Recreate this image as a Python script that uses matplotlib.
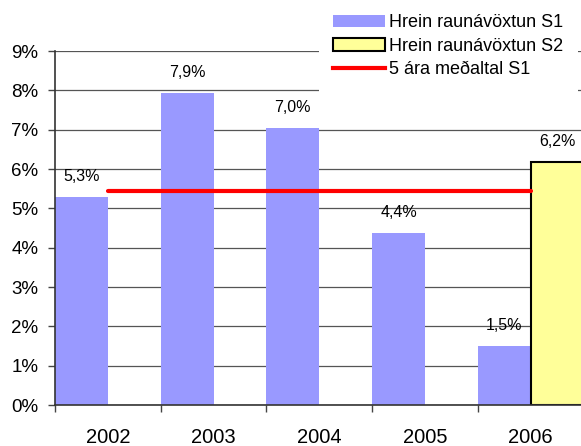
import numpy as np
import matplotlib
matplotlib.use("Agg")
import matplotlib.pyplot as plt
from matplotlib.patches import Patch
from matplotlib.lines import Line2D

years = ['2002', '2003', '2004', '2005', '2006']
s1 = [5.3, 7.94, 7.04, 4.37, 1.5]
s2 = [np.nan, np.nan, np.nan, np.nan, 6.18]
avg_s1 = 5.45
y_ticks = [0, 1, 2, 3, 4, 5, 6, 7, 8, 9]

s1_color = '#9999FF'
s2_color = '#FFFF99'

plt.rcParams['font.family'] = ['Liberation Sans', 'DejaVu Sans']


def main():
    fig = plt.figure(figsize=(5.81, 4.46), dpi=100)
    W, H = 581, 446
    ax = fig.add_axes([55 / W, (H - 405) / H, (583.5 - 55) / W, (405 - 51) / H])

    x = np.arange(len(years))
    ax.bar(x - 0.25, s1, width=0.5, color=s1_color, zorder=2)
    ax.bar(x + 0.25, s2, width=0.5, color=s2_color, edgecolor='black',
           linewidth=1.5, zorder=2)
    ax.plot(x, [avg_s1] * len(x), color='red', linewidth=3, zorder=3,
            solid_capstyle='round')

    # data labels
    for xi, v in zip(x, s1):
        ax.annotate(f'{v:.1f}%'.replace('.', ','), (xi - 0.25, v),
                    xytext=(0, 14.5), textcoords='offset points',
                    ha='center', va='center', fontsize=11.5)
    for xi, v in zip(x, s2):
        if not np.isnan(v):
            ax.annotate(f'{v:.1f}%'.replace('.', ','), (xi + 0.25, v),
                        xytext=(0, 14.5), textcoords='offset points',
                        ha='center', va='center', fontsize=11.5)

    ax.set_xlim(-0.5, len(years) - 0.5)
    ax.set_ylim(0, 9)
    ax.set_yticks(y_ticks)
    ax.set_yticklabels([f'{t}%' for t in y_ticks], fontsize=13.5)
    ax.set_xticks(np.arange(len(years) + 1) - 0.5)
    ax.set_xticklabels([])
    ax.set_xticks(x, minor=True)
    ax.set_xticklabels(years, minor=True, fontsize=14.5)
    ax.tick_params(axis='x', which='minor', length=0, pad=16.5)
    ax.tick_params(axis='x', which='major', length=5, width=1, color='#444444')
    ax.tick_params(axis='y', length=5, width=1, color='#444444', pad=7)

    ax.yaxis.grid(True, color='#555555', linewidth=0.9, zorder=0)
    ax.set_axisbelow(True)
    for side in ['top', 'right']:
        ax.spines[side].set_visible(False)
    for side in ['left', 'bottom']:
        ax.spines[side].set_color('#333333')
        ax.spines[side].set_linewidth(1.2)

    handles = [
        Patch(facecolor=s1_color, edgecolor='none'),
        Patch(facecolor=s2_color, edgecolor='black', linewidth=1.5),
        Line2D([0], [0], color='red', linewidth=3),
    ]
    labels = ['Hrein raunávöxtun S1', 'Hrein raunávöxtun S2', '5 ára meðaltal S1']
    fig.legend(handles, labels, loc='upper left',
               bbox_to_anchor=(318.5 / W, 1.0), borderaxespad=0,
               fontsize=13, frameon=True, facecolor='white', edgecolor='none',
               framealpha=1, fancybox=False, handlelength=2.9,
               handletextpad=0.22, labelspacing=0.35, borderpad=0.8)

    fig.savefig('out.png', dpi=100)


if __name__ == "__main__":
    main()
